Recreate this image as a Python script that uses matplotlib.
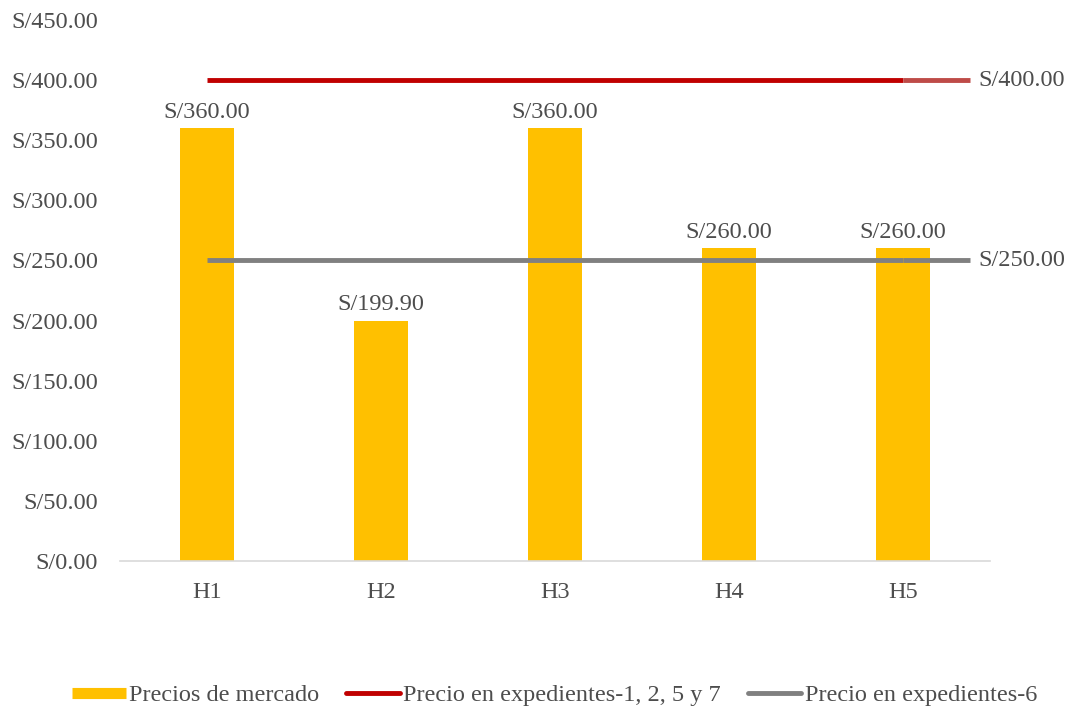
import matplotlib.pyplot as plt
from matplotlib.lines import Line2D
import numpy as np

categories = ['H1', 'H2', 'H3', 'H4', 'H5']
market_prices = [360.00, 199.90, 360.00, 260.00, 260.00]
price_exp_1257 = [400.00, 400.00, 400.00, 400.00, 400.00]
price_exp_6 = [250.00, 250.00, 250.00, 250.00, 250.00]
y_ticks = [0, 50, 100, 150, 200, 250, 300, 350, 400, 450]

YELLOW = '#FFC000'
RED = '#C00000'
GRAY = '#808080'
TEXT = '#4D4D4D'
FS = 17.5

plt.rcParams['font.family'] = ['Liberation Serif', 'DejaVu Serif']


def money(v):
    return 'S/{:.2f}'.format(v)


fig = plt.figure(figsize=(10.69, 7.09), dpi=100)
ax = fig.add_axes([0.1123, 0.2087, 0.8137, 0.7631])

x = np.arange(len(categories))
ax.bar(x, market_prices, width=0.315, color=YELLOW, zorder=2)
ax.plot(x, price_exp_1257, color=RED, lw=3.5, zorder=3, solid_capstyle='butt')
ax.plot(x, price_exp_6, color=GRAY, lw=3.5, zorder=3, solid_capstyle='butt')

# leader segments for the end labels
x_end = x[-1] + 0.385
ax.plot([x[-1], x_end], [price_exp_1257[-1]] * 2, color='#BE4B48', lw=3.5, solid_capstyle='butt', zorder=3)
ax.plot([x[-1], x_end], [price_exp_6[-1]] * 2, color=GRAY, lw=3.5, solid_capstyle='butt', zorder=3)
ax.text(x_end + 0.05, price_exp_1257[-1], money(price_exp_1257[-1]), va='center', ha='left',
        fontsize=FS, color=TEXT)
ax.text(x_end + 0.05, price_exp_6[-1], money(price_exp_6[-1]), va='center', ha='left',
        fontsize=FS, color=TEXT)

for xi, v in zip(x, market_prices):
    ax.annotate(money(v), (xi, v), xytext=(0, 4), textcoords='offset points',
                ha='center', va='bottom', fontsize=FS, color=TEXT)

ax.set_xlim(-0.5, len(categories) - 0.5)
ax.set_ylim(0, 450)
ax.set_yticks(y_ticks)
ax.set_yticklabels([money(v) for v in y_ticks])
ax.set_xticks(x)
ax.set_xticklabels(categories)
ax.tick_params(axis='both', length=0, labelsize=FS, labelcolor=TEXT)
ax.tick_params(axis='x', pad=15)
ax.tick_params(axis='y', pad=16)

for s in ['top', 'right', 'left']:
    ax.spines[s].set_visible(False)
ax.spines['bottom'].set_color('#D9D9D9')
ax.spines['bottom'].set_linewidth(1.2)

handles = [
    Line2D([], [], color=YELLOW, lw=8, solid_capstyle='butt'),
    Line2D([], [], color=RED, lw=3.5, solid_capstyle='round'),
    Line2D([], [], color=GRAY, lw=3.5, solid_capstyle='round'),
]
labels = ['Precios de mercado', 'Precio en expedientes-1, 2, 5 y 7', 'Precio en expedientes-6']
leg = fig.legend(handles, labels, loc='center', bbox_to_anchor=(0.519, 0.0197), ncol=3, frameon=False,
                 fontsize=FS, handlelength=2.2, handletextpad=0.15, columnspacing=1.1)
for t in leg.get_texts():
    t.set_color(TEXT)

fig.savefig('out.png', dpi=100)
